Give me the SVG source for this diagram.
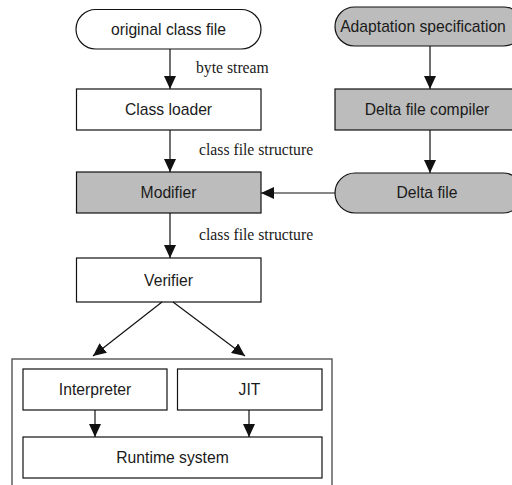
<svg xmlns="http://www.w3.org/2000/svg" width="512" height="485" viewBox="0 0 512 485">
  <style>
    .box { fill: #ffffff; stroke: #111111; stroke-width: 1.2; }
    .shade { fill: #bcbcbc; stroke: #111111; stroke-width: 1.2; }
    .frame { fill: #ffffff; stroke: #555555; stroke-width: 1.4; }
    .lbl { font-family: "Liberation Sans", Arial, sans-serif; font-size: 15.7px; fill: #1a1a1a; text-anchor: middle; }
    .elbl { font-family: "Liberation Serif", "Times New Roman", serif; font-size: 15.7px; fill: #1a1a1a; }
    .edge { stroke: #111111; stroke-width: 1.2; fill: none; marker-end: url(#head); }
  </style>
  <defs>
    <marker id="head" markerUnits="userSpaceOnUse" markerWidth="13" markerHeight="12" refX="13" refY="6" orient="auto">
      <path d="M0,0 L13,6 L0,12 z" fill="#111111"/>
    </marker>
  </defs>
  <rect width="512" height="485" fill="#ffffff"/>

  <!-- runtime container -->
  <g id="runtime-frame">
    <rect class="frame" x="12" y="359" width="320" height="140"/>
  </g>

  <g id="original-class-file">
    <rect class="box" x="76" y="9.5" width="185" height="39.5" rx="19.75"/>
    <text class="lbl" x="168.5" y="34.5">original class file</text>
  </g>
  <g id="class-loader">
    <rect class="box" x="76.5" y="89" width="184.5" height="41"/>
    <text class="lbl" x="168.5" y="115">Class loader</text>
  </g>
  <g id="modifier">
    <rect class="shade" x="76.5" y="172" width="184.5" height="41"/>
    <text class="lbl" x="168.5" y="198">Modifier</text>
  </g>
  <g id="verifier">
    <rect class="box" x="76.5" y="258" width="184.5" height="44"/>
    <text class="lbl" x="168.5" y="285.5">Verifier</text>
  </g>
  <g id="adaptation-specification">
    <rect class="shade" x="335" y="7" width="188" height="39" rx="19.5"/>
    <text class="lbl" x="423" y="32">Adaptation specification</text>
  </g>
  <g id="delta-file-compiler">
    <rect class="shade" x="335" y="89" width="190" height="41"/>
    <text class="lbl" x="427" y="115">Delta file compiler</text>
  </g>
  <g id="delta-file">
    <rect class="shade" x="335" y="173" width="188" height="40" rx="20"/>
    <text class="lbl" x="427" y="198">Delta file</text>
  </g>
  <g id="interpreter">
    <rect class="box" x="23" y="369" width="144" height="41"/>
    <text class="lbl" x="95" y="395">Interpreter</text>
  </g>
  <g id="jit">
    <rect class="box" x="177.5" y="369" width="144.5" height="41"/>
    <text class="lbl" x="249.5" y="395">JIT</text>
  </g>
  <g id="runtime-system">
    <rect class="box" x="23" y="437" width="299" height="41"/>
    <text class="lbl" x="172.5" y="463">Runtime system</text>
  </g>

  <g id="connectors">
    <line class="edge" x1="170" y1="49" x2="170" y2="89"/>
    <line class="edge" x1="170" y1="130" x2="170" y2="172"/>
    <line class="edge" x1="170" y1="213" x2="170" y2="258"/>
    <line class="edge" x1="430" y1="46" x2="430" y2="89"/>
    <line class="edge" x1="430" y1="130" x2="430" y2="173"/>
    <line class="edge" x1="335" y1="193" x2="261" y2="193"/>
    <line class="edge" x1="162" y1="302" x2="93" y2="356"/>
    <line class="edge" x1="173" y1="302" x2="245" y2="356"/>
    <line class="edge" x1="95" y1="410" x2="95" y2="437"/>
    <line class="edge" x1="249" y1="410" x2="249" y2="437"/>
    <text class="elbl" x="196" y="73">byte stream</text>
    <text class="elbl" x="199" y="155">class file structure</text>
    <text class="elbl" x="199" y="240">class file structure</text>
  </g>
</svg>
